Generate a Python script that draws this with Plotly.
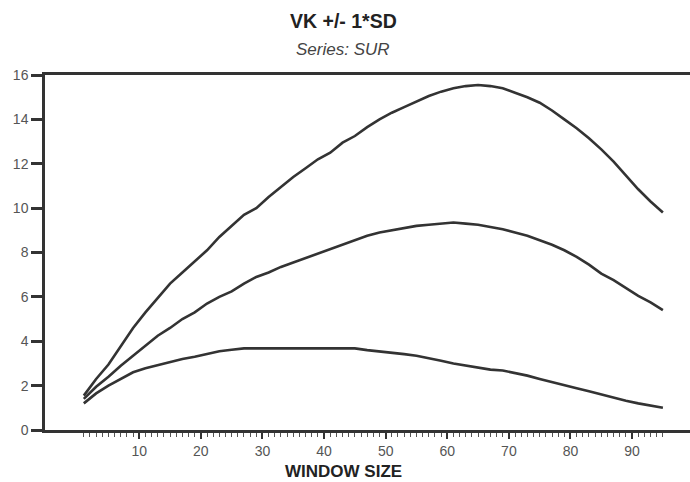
import plotly.graph_objects as go

window = list(range(1, 96, 2))

upper = [1.55, 2.3, 2.95, 3.8, 4.6, 5.3, 5.95, 6.6, 7.1, 7.6, 8.1, 8.7, 9.2, 9.7,
         10.0, 10.5, 10.95, 11.4, 11.8, 12.2, 12.5, 12.95, 13.25, 13.65, 14.0,
         14.3, 14.55, 14.8, 15.05, 15.25, 15.4, 15.5, 15.55, 15.5, 15.4, 15.2,
         15.0, 14.75, 14.4, 14.0, 13.6, 13.15, 12.65, 12.1, 11.45, 10.85, 10.3, 9.8]

middle = [1.4, 1.95, 2.4, 2.9, 3.35, 3.8, 4.25, 4.6, 5.0, 5.3, 5.7, 6.0, 6.25, 6.6,
          6.9, 7.1, 7.35, 7.55, 7.75, 7.95, 8.15, 8.35, 8.55, 8.75, 8.9, 9.0,
          9.1, 9.2, 9.25, 9.3, 9.35, 9.3, 9.25, 9.15, 9.05, 8.9, 8.75, 8.55,
          8.35, 8.1, 7.8, 7.45, 7.05, 6.75, 6.4, 6.05, 5.75, 5.4]

lower = [1.2, 1.65, 2.0, 2.3, 2.6, 2.78, 2.92, 3.05, 3.2, 3.3, 3.42, 3.55, 3.62,
         3.68, 3.68, 3.68, 3.68, 3.68, 3.68, 3.68, 3.68, 3.68, 3.68, 3.6, 3.55,
         3.5, 3.42, 3.35, 3.25, 3.12, 3.0, 2.9, 2.8, 2.72, 2.68, 2.58, 2.45,
         2.3, 2.15, 2.0, 1.88, 1.75, 1.6, 1.45, 1.32, 1.2, 1.1, 1.0]

x_ticks = [10, 20, 30, 40, 50, 60, 70, 80, 90]
y_ticks = [0, 2, 4, 6, 8, 10, 12, 14, 16]

ink = "#333333"
fig = go.Figure()
for series in (upper, middle, lower):
    fig.add_trace(go.Scatter(x=window, y=series, mode="lines",
                             line=dict(color=ink, width=2.6, shape="linear"),
                             showlegend=False))

font = "Liberation Sans, Arial, sans-serif"
fig.update_layout(
    width=690, height=482,
    margin=dict(l=45, r=0, t=75, b=52),
    paper_bgcolor="white", plot_bgcolor="white",
    font=dict(family=font, color=ink, size=14),
)
cx = (343 - 45) / 645
fig.add_annotation(text="<b>VK +/- 1*SD</b>", xref="paper", yref="paper",
                   x=cx, y=1 + (75 - 21) / 355, showarrow=False,
                   font=dict(size=19.5, color="#222222"), yanchor="middle")
fig.add_annotation(text="<i>Series: SUR</i>", xref="paper", yref="paper",
                   x=cx, y=1 + (75 - 49) / 355, showarrow=False,
                   font=dict(size=17, color="#444444"), yanchor="middle")
fig.add_annotation(text="<b>WINDOW SIZE</b>", xref="paper", yref="paper",
                   x=cx, y=-(471 - 430) / 355, showarrow=False,
                   font=dict(size=17, color="#222222"), yanchor="middle")

fig.update_xaxes(range=[-5.3, 99.4], tickvals=x_ticks, ticktext=[str(v) for v in x_ticks],
                 showline=True, linecolor=ink, linewidth=2.5, mirror=True,
                 ticks="outside", ticklen=6, tickwidth=1.5, tickcolor=ink,
                 showgrid=False, zeroline=False,
                 tickfont=dict(size=14, color="#555555"),
                 minor=dict(tickvals=list(range(1, 96)), ticks="outside", ticklen=4,
                            tickwidth=1, tickcolor="#555555", showgrid=False))
fig.update_yaxes(range=[0, 16], tickvals=y_ticks,
                 showline=True, linecolor=ink, linewidth=2.5, mirror=False,
                 ticks="outside", ticklen=11, tickwidth=2.5, tickcolor=ink,
                 showgrid=False, zeroline=False,
                 tickfont=dict(size=14, color="#555555"))

fig.write_html("out.html")
